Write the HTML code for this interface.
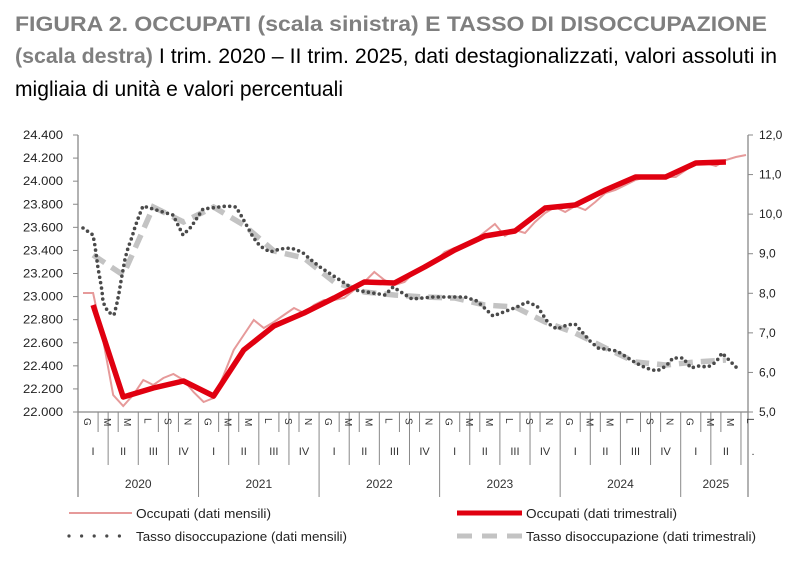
<!DOCTYPE html>
<html><head><meta charset="utf-8"><style>
html,body{margin:0;padding:0;background:#fff;}
svg{display:block;font-family:"Liberation Sans",sans-serif;}
</style></head><body>
<svg width="800" height="565" viewBox="0 0 800 565" xmlns="http://www.w3.org/2000/svg">
<rect width="800" height="565" fill="#fff"/>
<text x="15" y="31" font-size="21" font-weight="bold" fill="#7f7f7f" textLength="752" lengthAdjust="spacingAndGlyphs">FIGURA 2. OCCUPATI (scala sinistra) E TASSO DI DISOCCUPAZIONE</text>
<text x="15" y="63" font-size="21" textLength="762" lengthAdjust="spacingAndGlyphs"><tspan font-weight="bold" fill="#7f7f7f">(scala destra)</tspan><tspan fill="#000"> I trim. 2020 – II trim. 2025, dati destagionalizzati, valori assoluti in</tspan></text>
<text x="15" y="96" font-size="21" fill="#000" textLength="328" lengthAdjust="spacingAndGlyphs">migliaia di unità e valori percentuali</text>

<g stroke="#888" stroke-width="1.3" fill="none">
<line x1="78" y1="135" x2="78" y2="497"/>
<line x1="748" y1="135" x2="748" y2="497"/>
<line x1="78" y1="412" x2="748" y2="412"/>
</g>
<g id="lt" stroke="#888" stroke-width="1"></g>
<g id="lab" font-size="12" fill="#222"></g>
<g id="xa" stroke="#888" stroke-width="1"></g>
<g id="xl" font-size="11" fill="#333"></g>

<polyline id="pink" fill="none" stroke="#e69a9a" stroke-width="2"/>
<polyline id="gray" fill="none" stroke="#c3c3c3" stroke-width="5.5" stroke-dasharray="14 8"/>
<polyline id="dots" fill="none" stroke="#4a4a4a" stroke-width="3.6" stroke-linecap="round" stroke-dasharray="0 5.5"/>
<polyline id="red" fill="none" stroke="#e00010" stroke-width="5.5" stroke-linejoin="round"/>

<line x1="69" y1="513" x2="132" y2="513" stroke="#e69a9a" stroke-width="2"/>
<text x="136" y="518" font-size="13" fill="#222" textLength="135" lengthAdjust="spacingAndGlyphs">Occupati (dati mensili)</text>
<line x1="457" y1="513" x2="522" y2="513" stroke="#e00010" stroke-width="5"/>
<text x="526" y="518" font-size="13" fill="#222" textLength="151" lengthAdjust="spacingAndGlyphs">Occupati (dati trimestrali)</text>
<line x1="69" y1="536" x2="132" y2="536" stroke="#4a4a4a" stroke-width="3.2" stroke-linecap="round" stroke-dasharray="0 12.6"/>
<text x="136" y="541" font-size="13" fill="#222" textLength="211" lengthAdjust="spacingAndGlyphs">Tasso disoccupazione (dati mensili)</text>
<line x1="457" y1="536" x2="522" y2="536" stroke="#c3c3c3" stroke-width="5" stroke-dasharray="15 10"/>
<text x="526" y="541" font-size="13" fill="#222" textLength="230" lengthAdjust="spacingAndGlyphs">Tasso disoccupazione (dati trimestrali)</text>
</svg>
<script>
(function(){
var NS="http://www.w3.org/2000/svg";
function el(p,t,a,txt){var e=document.createElementNS(NS,t);for(var k in a)e.setAttribute(k,a[k]);if(txt!==undefined)e.textContent=txt;document.getElementById(p).appendChild(e);return e;}
var L=["22.000","22.200","22.400","22.600","22.800","23.000","23.200","23.400","23.600","23.800","24.000","24.200","24.400"];
for(var i=0;i<13;i++){var y=412-i*23.083;
 el("lt","line",{x1:73,y1:y,x2:78,y2:y});
 el("lab","text",{x:63,y:y+4,"text-anchor":"end",textLength:40,lengthAdjust:"spacingAndGlyphs"},L[i]);}
var R=["5,0","6,0","7,0","8,0","9,0","10,0","11,0","12,0"];
for(var i=0;i<8;i++){var y=412-i*39.57;
 el("lt","line",{x1:748,y1:y,x2:753,y2:y});
 el("lab","text",{x:759,y:y+4},R[i]);}
var x0=78,mw=(748-78)/66.7;
var mn=["G","M","M","L","S","N"];
for(var m=0;m<=67;m+=1){
 var x=x0+m*mw;
 if(m%12==0){el("xa","line",{x1:x,y1:412,x2:x,y2:497});}
 else if(m%3==0){el("xa","line",{x1:x,y1:412,x2:x,y2:465});}
 else if(m%2==0){el("xa","line",{x1:x,y1:412,x2:x,y2:432});}
}
for(var m=0;m<67;m+=2){var x=x0+(m+1)*mw;el("xl","text",{x:0,y:0,transform:"translate("+(x-4)+",418) rotate(90)","font-size":"10"},mn[(m%12)/2]);}
var Q=["I","II","III","IV"];
for(var q=0;q<22;q++){var x=x0+(q*3+1.5)*mw;el("xl","text",{x:x,y:455,"text-anchor":"middle"},Q[q%4]);}
el("xl","text",{x:x0+67.2*mw,y:455,"text-anchor":"middle"},".");
var Y=["2020","2021","2022","2023","2024","2025"];
for(var k=0;k<6;k++){var x=x0+(k*12+(k==5?3.5:6))*mw;el("xl","text",{x:x,y:488,"text-anchor":"middle","font-size":"12"},Y[k]);}
var pm=[293,293,340,395,406,395,380,385,378,374,380,392,402,398,375,350,335,320,328,322,315,308,313,305,300,300,298,290,282,272,280,285,282,272,265,262,252,248,245,240,232,224,236,230,233,222,213,207,212,206,210,202,193,190,185,180,177,178,177,177,170,163,163,166,160,157,155];
var p=[];for(var i=0;i<pm.length;i++)p.push((x0+(i+0.5)*mw).toFixed(1)+","+pm[i]);
document.getElementById("pink").setAttribute("points",p.join(" "));
var ry=[305,397,388,381,396,350,326,313,298,282,283,267,250,236,231,208,205,190,177,177,163,162];
var gy=[255,275,207,222,207,225,251,258,282,292,295,297,298,305,307,322,333,348,362,365,362,360];
var r=[],g=[];for(var q=0;q<22;q++){var x=(x0+(q*3+1.5)*mw).toFixed(1);r.push(x+","+ry[q]);g.push(x+","+gy[q]);}
document.getElementById("red").setAttribute("points",r.join(" "));
document.getElementById("gray").setAttribute("points",g.join(" "));
var d="83,228 93,235 95,246 98,268 100,279 102,291 103,302 108,312 114,315 117,303 119,293 121,281 125,259 128,248 132,237 135,227 139,216 143,206 173,215 183,235 191,227 203,209 227,206 236,207 242,217 253,237 260,246 270,252 280,249 291,248 302,252 310,259 320,267 355,290 385,295 393,287 412,299 433,297 465,297 477,301 493,316 517,307 527,302 537,306 543,315 549,324 557,329 567,325 575,324 590,341 598,348 617,351 636,363 646,368 657,371 666,366 673,358 683,358 691,368 698,366 708,367 716,362 722,353 729,360 737,368";
document.getElementById("dots").setAttribute("points",d);
})();
</script>
</body></html>
